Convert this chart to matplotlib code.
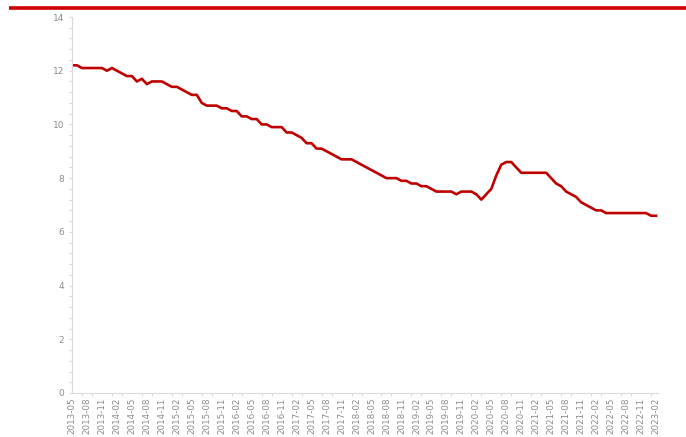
import numpy as np
import pandas as pd
import matplotlib
matplotlib.use('Agg')
import matplotlib.pyplot as plt
from matplotlib.ticker import MultipleLocator, FixedLocator

# monthly series, 2013-05 .. 2023-02
months = pd.date_range('2013-05-01', '2023-02-01', freq='MS').strftime('%Y-%m').tolist()
values = [
    12.2, 12.2, 12.1, 12.1, 12.1, 12.1, 12.1, 12.0, 12.1, 12.0,
    11.9, 11.8, 11.8, 11.6, 11.7, 11.5, 11.6, 11.6, 11.6, 11.5,
    11.4, 11.4, 11.3, 11.2, 11.1, 11.1, 10.8, 10.7, 10.7, 10.7,
    10.6, 10.6, 10.5, 10.5, 10.3, 10.3, 10.2, 10.2, 10.0, 10.0,
    9.9, 9.9, 9.9, 9.7, 9.7, 9.6, 9.5, 9.3, 9.3, 9.1,
    9.1, 9.0, 8.9, 8.8, 8.7, 8.7, 8.7, 8.6, 8.5, 8.4,
    8.3, 8.2, 8.1, 8.0, 8.0, 8.0, 7.9, 7.9, 7.8, 7.8,
    7.7, 7.7, 7.6, 7.5, 7.5, 7.5, 7.5, 7.4, 7.5, 7.5,
    7.5, 7.4, 7.2, 7.4, 7.6, 8.1, 8.5, 8.6, 8.6, 8.4,
    8.2, 8.2, 8.2, 8.2, 8.2, 8.2, 8.0, 7.8, 7.7, 7.5,
    7.4, 7.3, 7.1, 7.0, 6.9, 6.8, 6.8, 6.7, 6.7, 6.7,
    6.7, 6.7, 6.7, 6.7, 6.7, 6.7, 6.6, 6.6,
]
y_ticks = [0, 2, 4, 6, 8, 10, 12, 14]

grey = '#8c8c8c'
axis_col = '#d9d9d9'
red = '#c00000'

fig = plt.figure(figsize=(6.86, 4.37), dpi=100)
ax = fig.add_axes([72 / 686, 44 / 437, 586 / 686, 376 / 437])

x = np.arange(len(values))
ax.plot(x, values, color=red, linewidth=1.9, solid_joinstyle='round')

ax.set_xlim(0, len(values) - 1 + 0.4)
ax.set_ylim(0, 14)

# x axis: labels every 3 months, small tick marks every 2 months
ax.xaxis.set_major_locator(FixedLocator(x[::3]))
ax.set_xticklabels(months[::3], rotation=90, fontsize=6.3, color=grey)
ax.xaxis.set_minor_locator(FixedLocator(x[::2]))
ax.tick_params(axis='x', which='major', length=0, pad=3.5)
ax.tick_params(axis='x', which='minor', length=2.5, color=axis_col, width=0.8)

ax.set_yticks(y_ticks)
ax.set_yticklabels([str(v) for v in y_ticks], fontsize=6.5, color=grey)
ax.yaxis.set_minor_locator(MultipleLocator(0.4))
ax.tick_params(axis='y', which='both', length=2.5, color=axis_col, width=0.8, pad=3)

for side in ['top', 'right']:
    ax.spines[side].set_visible(False)
for side in ['left', 'bottom']:
    ax.spines[side].set_color(axis_col)
    ax.spines[side].set_linewidth(0.8)

# red bar across the top
fig.add_artist(plt.Line2D([9 / 686, 1.0], [1 - 7.5 / 437] * 2, color='#cc0000',
                          linewidth=2.6, transform=fig.transFigure, solid_capstyle='butt'))

fig.savefig('out.png', dpi=100)
